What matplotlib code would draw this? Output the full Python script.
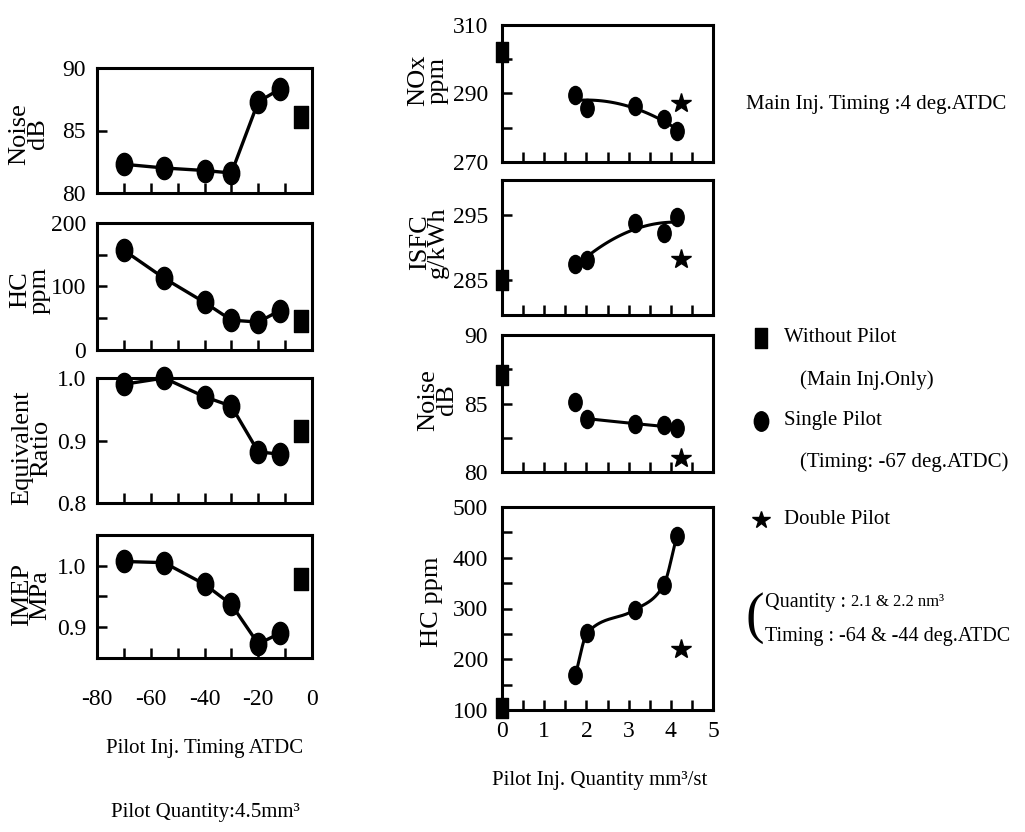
import numpy as np
import matplotlib
matplotlib.use("Agg")
import matplotlib.pyplot as plt
from matplotlib.path import Path
from matplotlib.transforms import Affine2D

plt.rcParams["font.family"] = ["Liberation Serif", "DejaVu Serif"]

# pilot injection timing sweep (left column)
timing = [-70, -55, -40, -30, -20, -12]
noise_timing = [82.3, 82.0, 81.8, 81.6, 87.3, 88.3]
hc_timing = [157, 113, 75, 47, 44, 62]
eq_ratio = [0.99, 1.0, 0.97, 0.955, 0.882, 0.878]
imep = [1.007, 1.005, 0.97, 0.937, 0.873, 0.89]

# main injection only, shown at the right edge of the timing plots
base_timing = -4
noise_base_t = 86.1
hc_base_t = 45
eq_base_t = 0.915
imep_base_t = 0.979

# pilot quantity sweep (right column)
quantity = [1.74, 2.02, 3.14, 3.83, 4.14]
nox_single = [289.6, 285.8, 286.4, 282.5, 279.0]
isfc_single = [287.4, 288.0, 293.8, 292.3, 294.8]
noise_single = [85.1, 83.9, 83.5, 83.4, 83.2]
hc_single = [169, 252, 297, 346, 442]

# double pilot
double_q = 4.24
nox_double = 287.2
isfc_double = 288.2
noise_double = 81.0
hc_double = 221

# without pilot
base_q = 0.0
nox_base = 302
isfc_base = 285
noise_base = 87.1
hc_base = 103

W, H = 1025, 832
fig = plt.figure(figsize=(W / 100, H / 100), dpi=100)

# tall markers, like the printed figure
circ = Path.unit_circle().transformed(Affine2D().scale(0.74, 1.0))
sq = Path.unit_rectangle().transformed(Affine2D().translate(-0.5, -0.5).scale(0.62, 1.0))

TICK = 17
LAB = 19
TXT = 15


def panel(x0, y0, x1, y1):
    # axes box given in pixel coordinates from the top-left corner
    ax = fig.add_axes([x0 / W, 1 - y1 / H, (x1 - x0) / W, (y1 - y0) / H])
    for s in ax.spines.values():
        s.set_linewidth(2.2)
    ax.tick_params(which="both", direction="in", length=7, width=1.8,
                   labelsize=TICK, top=False, right=False)
    return ax


def single(ax, x, y, ms=16):
    ax.plot(x, y, color="k", lw=2.4, marker=circ, ms=ms, clip_on=False, zorder=3)


def trend(ax, x, y, deg):
    coef = np.polyfit(x, y, deg)
    xs = np.linspace(min(x), max(x), 100)
    ax.plot(xs, np.polyval(coef, xs), color="k", lw=2.2, zorder=2)


def smooth_through(ax, x, y):
    # cardinal hermite curve through the points
    x = np.asarray(x, float)
    y = np.asarray(y, float)
    h = np.diff(x)
    d = np.diff(y) / h
    m = np.empty_like(y)
    m[0], m[-1] = d[0], d[-1]
    m[1:-1] = (y[2:] - y[:-2]) / (x[2:] - x[:-2])
    t = np.linspace(0, 1, 40)
    h00 = 2 * t**3 - 3 * t**2 + 1
    h10 = t**3 - 2 * t**2 + t
    h01 = -2 * t**3 + 3 * t**2
    h11 = t**3 - t**2
    xs, ys = [], []
    for i in range(len(x) - 1):
        xs.append(x[i] + t * h[i])
        ys.append(h00 * y[i] + h10 * h[i] * m[i] + h01 * y[i + 1] + h11 * h[i] * m[i + 1])
    ax.plot(np.concatenate(xs), np.concatenate(ys), color="k", lw=2.2, zorder=2)


def ylab(x, y, s):
    fig.text(x / W, 1 - y / H, s, rotation=90, ha="center", va="center",
             fontsize=LAB, linespacing=0.8, multialignment="center")


# ---- left column: timing sweep ----
left = []
for y0, y1 in [(68, 193), (223, 350), (378, 503), (535, 658)]:
    ax = panel(97, y0, 312, y1)
    ax.set_xlim(-80, 0)
    ax.set_xticks([-80, -60, -40, -20, 0])
    ax.set_xticks([-70, -50, -30, -10], minor=True)
    ax.tick_params(axis="x", pad=22)
    ax.tick_params(axis="y", pad=8)
    left.append(ax)

ax = left[0]
single(ax, timing, noise_timing)
ax.plot(base_timing, noise_base_t, marker=sq, ms=16, color="k", clip_on=False)
ax.set_ylim(80, 90)
ax.set_yticks([80, 85, 90])

ax = left[1]
single(ax, timing, hc_timing)
ax.plot(base_timing, hc_base_t, marker=sq, ms=16, color="k", clip_on=False)
ax.set_ylim(0, 200)
ax.set_yticks([0, 100, 200])
ax.set_yticks([50, 150], minor=True)

ax = left[2]
single(ax, timing, eq_ratio)
ax.plot(base_timing, eq_base_t, marker=sq, ms=16, color="k", clip_on=False)
ax.set_ylim(0.8, 1.0)
ax.set_yticks([0.8, 0.9, 1.0])
ax.set_yticklabels(["0.8", "0.9", "1.0"])

ax = left[3]
single(ax, timing, imep)
ax.plot(base_timing, imep_base_t, marker=sq, ms=16, color="k", clip_on=False)
ax.set_ylim(0.85, 1.05)
ax.set_yticks([0.9, 1.0])
ax.set_yticklabels(["0.9", "1.0"])
ax.set_yticks([0.95], minor=True)

for ax in left[:3]:
    ax.tick_params(axis="x", labelbottom=False)
left[3].set_xticklabels(["-80", "-60", "-40", "-20", "0"])

ylab(29, 134, "Noise\ndB")
ylab(30, 290, "HC\nppm")
ylab(32, 448, "Equivalent\nRatio")
ylab(31, 595, "IMEP\nMPa")

fig.text(205 / W, 1 - 748 / H, "Pilot Inj. Timing ATDC", ha="center", va="center", fontsize=TXT)
fig.text(205 / W, 1 - 813 / H, "Pilot Quantity:4.5mm³", ha="center", va="center", fontsize=TXT)

# ---- right column: quantity sweep ----
right = []
for y0, y1 in [(25, 162), (180, 315), (335, 472), (507, 710)]:
    ax = panel(502, y0, 713, y1)
    ax.set_xlim(0, 5)
    ax.set_xticks(range(6))
    ax.set_xticks(np.arange(0.5, 5, 1.0), minor=True)
    ax.tick_params(axis="x", pad=8)
    ax.tick_params(axis="y", pad=10)
    right.append(ax)


def quantity_points(ax, ys, base, dbl, ms=13):
    ax.plot(quantity, ys, ls="none", color="k", marker=circ, ms=ms, clip_on=False, zorder=3)
    ax.plot(base_q, base, marker=sq, ms=14, color="k", clip_on=False, zorder=3)
    ax.plot(double_q, dbl, marker="*", ms=15, color="k", clip_on=False, zorder=3)


ax = right[0]
quantity_points(ax, nox_single, nox_base, nox_double)
trend(ax, quantity, nox_single, 2)
ax.set_ylim(270, 310)
ax.set_yticks([270, 290, 310])
ax.set_yticks([280, 300], minor=True)

ax = right[1]
quantity_points(ax, isfc_single, isfc_base, isfc_double)
trend(ax, quantity, isfc_single, 2)
ax.set_ylim(279.5, 300.5)
ax.set_yticks([285, 295])

ax = right[2]
quantity_points(ax, noise_single, noise_base, noise_double)
trend(ax, quantity[1:], noise_single[1:], 2)
ax.set_ylim(80, 90)
ax.set_yticks([80, 85, 90])
ax.set_yticks([82.5, 87.5], minor=True)

ax = right[3]
quantity_points(ax, hc_single, hc_base, hc_double)
smooth_through(ax, quantity, hc_single)
ax.set_ylim(100, 500)
ax.set_yticks(range(100, 501, 100))
ax.set_yticks(range(150, 500, 100), minor=True)

for ax in right[:3]:
    ax.tick_params(axis="x", labelbottom=False)

ylab(428, 80, "NOx\nppm")
ylab(429, 242, "ISFC\ng/kWh")
ylab(438, 400, "Noise\ndB")
ylab(432, 602, "HC ppm")

fig.text(600 / W, 1 - 780 / H, "Pilot Inj. Quantity mm³/st", ha="center", va="center", fontsize=TXT)

# ---- legend and notes ----
lg = fig.add_axes([0, 0, 1, 1])
lg.set_xlim(0, W)
lg.set_ylim(H, 0)
lg.axis("off")
lg.plot(761, 338, marker=sq, ms=14, color="k")
lg.plot(761, 421, marker=circ, ms=14, color="k")
lg.plot(761, 520, marker="*", ms=13, color="k")

notes = [
    (746, 105, "Main Inj. Timing :4 deg.ATDC"),
    (784, 338, "Without Pilot"),
    (800, 380, "(Main Inj.Only)"),
    (784, 421, "Single Pilot"),
    (800, 462, "(Timing: -67 deg.ATDC)"),
    (784, 520, "Double Pilot"),
]
for x, y, s in notes:
    lg.text(x, y, s, ha="left", va="center", fontsize=TXT)

q = lg.text(765, 602, "Quantity : ", ha="left", va="center", fontsize=14.5)
lg.annotate("2.1 & 2.2 nm³", xy=(1, 0.5), xycoords=q, ha="left", va="center", fontsize=12)
lg.text(765, 637, "Timing : -64 & -44 deg.ATDC", ha="left", va="center", fontsize=14.5)
lg.text(755, 618, "(", ha="center", va="center", fontsize=40, fontweight="light")

fig.savefig("out.png", dpi=100)
